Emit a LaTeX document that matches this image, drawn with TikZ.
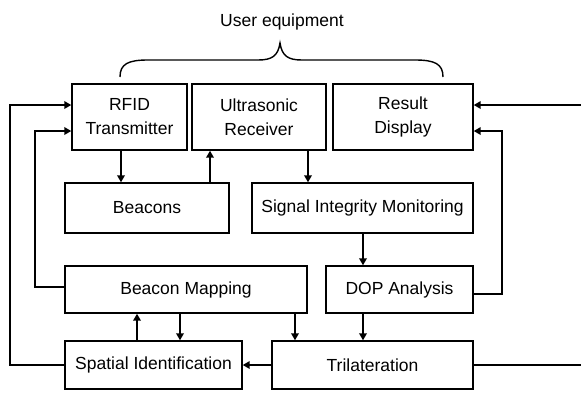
\documentclass[tikz,border=0pt]{standalone}
\usepackage{fontspec}
\setmainfont{Liberation Sans}
\usetikzlibrary{arrows.meta}
\begin{document}
\begin{tikzpicture}[x=1pt,y=-1pt,
  box/.style={draw,line width=1.4pt,inner sep=0pt,align=center,
    font=\fontsize{17.5}{24}\selectfont},
  arr/.style={line width=2.8pt,-{Triangle[length=7pt,width=7.5pt]}}]
\clip (0,0) rectangle (581,392);
\fill[white] (0,0) rectangle (581,392);
\node[font=\fontsize{17.5}{24}\selectfont] (ue) at (282,22) {User equipment};
\draw[line width=1.4pt] (120,77) .. controls (120,64) and (128,60) .. (148,60) -- (258,60)
  .. controls (272,60) and (278,56) .. (280,43)
  .. controls (282,56) and (288,60) .. (302,60) -- (415,60)
  .. controls (435,60) and (443,64) .. (443,77);
\node[box,minimum width=115,minimum height=66] (rfid) at (129.5,117) {RFID\\Transmitter};
\node[box,minimum width=134,minimum height=66] (ultra) at (259,117) {Ultrasonic\\Receiver};
\node[box,minimum width=140,minimum height=66] (result) at (403,117) {Result\\Display};
\node[box,minimum width=164,minimum height=50] (beacons) at (147,208) {Beacons};
\node[box,minimum width=221,minimum height=50] (signal) at (362.5,208) {Signal Integrity Monitoring};
\node[box,minimum width=242,minimum height=47] (bmap) at (186,289.5) {Beacon Mapping};
\node[box,minimum width=147,minimum height=47] (dop) at (399.5,289.5) {DOP Analysis};
\node[box,minimum width=177,minimum height=48] (spatial) at (153.5,365) {Spatial Identification};
\node[box,minimum width=201,minimum height=48] (tri) at (372.5,365) {Trilateration};
\coordinate (far) at (595,0);
% vertical arrows
\draw[arr] (rfid.south -| 121,0) -- (beacons.north -| 121,0);
\draw[arr] (beacons.north -| 210,0) -- (ultra.south -| 210,0);
\draw[arr] (ultra.south -| 308,0) -- (signal.north -| 308,0);
\draw[arr] (signal.south -| 363,0) -- (dop.north -| 363,0);
\draw[arr] (dop.south -| 363,0) -- (tri.north -| 363,0);
\draw[arr] (bmap.south -| 295,0) -- (tri.north -| 295,0);
\draw[arr] (spatial.north -| 137,0) -- (bmap.south -| 137,0);
\draw[arr] (bmap.south -| 180,0) -- (spatial.north -| 180,0);
\draw[arr] (tri.west) -- (spatial.east);
% loops
\draw[arr] (spatial.west) -| (10,105) -- (rfid.west |- 0,105);
\draw[arr] (bmap.west |- 0,287) -| (35,131) -- (rfid.west |- 0,131);
\draw[arr] (dop.east |- 0,294) -| (502,131) -- (result.east |- 0,131);
\draw[arr] (tri.east) -| (far |- 0,105) -- (result.east |- 0,105);
\end{tikzpicture}
\end{document}
